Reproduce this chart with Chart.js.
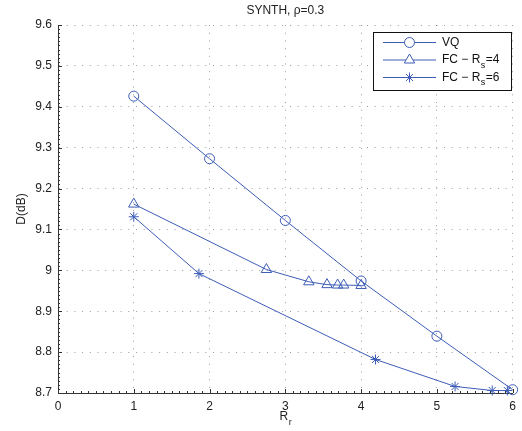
<!DOCTYPE html>
<html>
<head>
<meta charset="utf-8">
<script src="https://cdn.jsdelivr.net/npm/chart.js@4/dist/chart.umd.min.js"></script>
<style>
  html, body { margin: 0; padding: 0; background: #ffffff; }
  #wrap { position: relative; width: 522px; height: 431px; }
</style>
</head>
<body>
<div id="wrap"><canvas id="chart"></canvas></div>
<script>
// Rate (R_r) and distortion D(dB) for each scheme
const xTickValues = [0, 1, 2, 3, 4, 5, 6];
const yTickValues = [8.7, 8.8, 8.9, 9.0, 9.1, 9.2, 9.3, 9.4, 9.5, 9.6];
const yTickLabels = ['8.7', '8.8', '8.9', '9', '9.1', '9.2', '9.3', '9.4', '9.5', '9.6'];

const vqRate = [1, 2, 3, 4, 5, 6];
const vqDist = [9.426, 9.273, 9.122, 8.974, 8.839, 8.708];

const fc4Rate = [1, 2.75, 3.31, 3.55, 3.69, 3.77, 4.0];
const fc4Dist = [9.162, 9.002, 8.972, 8.965, 8.964, 8.964, 8.963];

const fc6Rate = [1, 1.86, 4.19, 5.24, 5.73, 5.93];
const fc6Dist = [9.131, 8.992, 8.782, 8.716, 8.706, 8.706];

const seriesNames = ['VQ', 'FC \u2212 R|s|=4', 'FC \u2212 R|s|=6'];
const titleText = 'SYNTH, \u03c1=0.3';

const BLUE = '#3d5db6';
const FONT = '"Liberation Sans", Arial, Helvetica, sans-serif';

function toPoints(xs, ys) {
  return xs.map((x, i) => ({ x: x, y: ys[i] }));
}

// Text with an optional subscript part written as "main|sub|rest"
function drawSubText(ctx, text, x, y, size, align) {
  const parts = text.split('|');
  const subSize = Math.round(size * 0.72);
  ctx.font = size + 'px ' + FONT;
  const w0 = ctx.measureText(parts[0]).width;
  let w1 = 0, w2 = 0;
  if (parts.length > 1) {
    ctx.font = subSize + 'px ' + FONT;
    w1 = ctx.measureText(parts[1]).width;
    ctx.font = size + 'px ' + FONT;
    w2 = ctx.measureText(parts[2] || '').width;
  }
  let sx = x;
  if (align === 'center') sx = x - (w0 + w1 + w2) / 2;
  ctx.textAlign = 'left';
  ctx.textBaseline = 'middle';
  ctx.font = size + 'px ' + FONT;
  ctx.fillText(parts[0], sx, y);
  if (parts.length > 1) {
    ctx.font = subSize + 'px ' + FONT;
    ctx.fillText(parts[1], sx + w0 + 0.5, y + size * 0.42);
    ctx.font = size + 'px ' + FONT;
    ctx.fillText(parts[2] || '', sx + w0 + w1 + 1, y);
  }
}

const decorations = {
  id: 'decorations',
  afterDraw(chart) {
    const ctx = chart.ctx;
    const area = chart.chartArea;
    const xs = chart.scales.x;
    const ys = chart.scales.y;
    ctx.save();

    // minor tick marks along the left and bottom axes
    ctx.strokeStyle = '#333333';
    ctx.lineWidth = 1;
    ctx.beginPath();
    for (let i = 0; i <= 60; i++) {
      const px = Math.round(xs.getPixelForValue(i / 10)) + 0.5;
      const len = (i % 10 === 0) ? 4 : 2;
      ctx.moveTo(px, area.bottom);
      ctx.lineTo(px, area.bottom - len);
    }
    for (let j = 0; j <= 90; j++) {
      const py = Math.round(ys.getPixelForValue(8.7 + j / 100)) + 0.5;
      const len = (j % 10 === 0) ? 4 : 2;
      ctx.moveTo(area.left, py);
      ctx.lineTo(area.left + len, py);
    }
    ctx.stroke();

    // title
    ctx.fillStyle = '#222222';
    ctx.font = '12px ' + FONT;
    ctx.textAlign = 'center';
    ctx.textBaseline = 'middle';
    ctx.fillText(titleText, (area.left + area.right) / 2, 11);

    // x axis title R_r
    drawSubText(ctx, 'R|r|', (area.left + area.right) / 2, 417, 12, 'center');

    // legend box
    const bx = 373, by = 32, bw = 138, bh = 58;
    ctx.fillStyle = '#ffffff';
    ctx.fillRect(bx, by, bw, bh);
    ctx.strokeStyle = '#111111';
    ctx.lineWidth = 1;
    ctx.strokeRect(bx + 0.5, by + 0.5, bw, bh);

    const rows = [42.5, 60, 77.5];
    chart.data.datasets.forEach((ds, k) => {
      const ry = rows[k];
      ctx.strokeStyle = BLUE;
      ctx.lineWidth = 1;
      ctx.beginPath();
      ctx.moveTo(383, ry);
      ctx.lineTo(436, ry);
      ctx.stroke();
      ctx.fillStyle = '#ffffff';
      Chart.helpers.drawPoint(ctx, {
        pointStyle: ds.pointStyle,
        radius: ds.pointRadius,
        borderWidth: 1,
        rotation: 0
      }, 409.5, ry);
      ctx.fillStyle = '#111111';
      drawSubText(ctx, seriesNames[k], 442, ry, 12, 'left');
    });
    ctx.restore();
  }
};

function dataset(label, xs, ys, style, radius) {
  return {
    label: label,
    data: toPoints(xs, ys),
    borderColor: BLUE,
    backgroundColor: 'rgba(0,0,0,0)',
    borderWidth: 1,
    pointStyle: style,
    pointRadius: radius,
    pointHoverRadius: radius,
    pointBorderColor: BLUE,
    pointBackgroundColor: 'rgba(0,0,0,0)',
    pointBorderWidth: 1,
    tension: 0,
    clip: false
  };
}

new Chart(document.getElementById('chart'), {
  type: 'scatter',
  data: {
    datasets: [
      dataset('VQ', vqRate, vqDist, 'circle', 5),
      dataset('FC - Rs=4', fc4Rate, fc4Dist, 'triangle', 6),
      dataset('FC - Rs=6', fc6Rate, fc6Dist, 'star', 5)
    ]
  },
  plugins: [decorations],
  options: {
    responsive: true,
    maintainAspectRatio: false,
    animation: false,
    showLine: true,
    layout: { padding: { top: 25, right: 4, left: 0, bottom: 0 } },
    plugins: {
      legend: { display: false },
      tooltip: { enabled: false },
      title: { display: false }
    },
    scales: {
      x: {
        type: 'linear',
        min: 0,
        max: 6,
        afterBuildTicks(scale) { scale.ticks = xTickValues.map(v => ({ value: v })); },
        afterFit(scale) { scale.height = 38; },
        ticks: {
          color: '#222222',
          font: { family: FONT, size: 12 },
          padding: 6,
          maxRotation: 0,
          callback: (v) => String(v)
        },
        grid: { color: 'rgba(60,60,60,0.5)', lineWidth: 1, drawTicks: false },
        border: { display: true, color: '#333333', width: 1, dash: [1, 6.7] }
      },
      y: {
        type: 'linear',
        min: 8.7,
        max: 9.6,
        afterBuildTicks(scale) { scale.ticks = yTickValues.map(v => ({ value: v })); },
        afterFit(scale) { scale.width = 58; },
        ticks: {
          color: '#222222',
          font: { family: FONT, size: 12 },
          padding: 6,
          callback: (v) => {
            const i = yTickValues.findIndex(t => Math.abs(t - v) < 1e-6);
            return i >= 0 ? yTickLabels[i] : '';
          }
        },
        title: {
          display: true,
          text: 'D(dB)',
          color: '#222222',
          font: { family: FONT, size: 12, lineHeight: 1.2 },
          padding: { top: 14.8, bottom: 0 }
        },
        grid: { color: 'rgba(60,60,60,0.5)', lineWidth: 1, drawTicks: false },
        border: { display: true, color: '#333333', width: 1, dash: [1, 6.7] }
      }
    }
  }
});
</script>
</body>
</html>
